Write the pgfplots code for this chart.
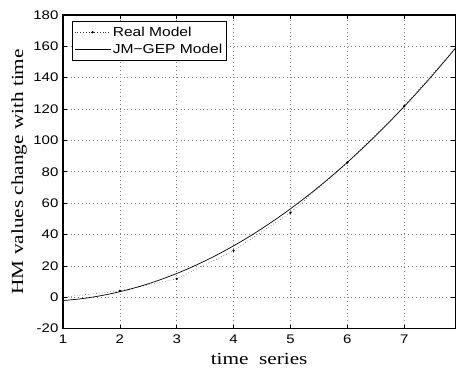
\documentclass[border=0pt]{standalone}
\usepackage{fontspec}
\setmainfont{Liberation Serif}[FakeStretch=1.25]
\newfontfamily\arialfont{Liberation Sans}[FakeStretch=1.2]
\usepackage{pgfplots}
\pgfplotsset{compat=1.18}
\begin{document}
\begin{tikzpicture}
\begin{axis}[
  scale only axis,
  width=393pt, height=314pt,
  xmin=1, xmax=7.9, ymin=-20, ymax=180,
  xtick={1,2,3,4,5,6,7},
  ytick={-20,0,20,40,60,80,100,120,140,160,180},
  /pgf/number format/assume math mode=true,
  ticklabel style={font=\arialfont\fontsize{12.5}{12.5}\selectfont},
  xticklabel style={yshift=-2.5pt},
  yticklabel style={xshift=-1pt},
  tick align=inside, major tick length=4pt,
  tick style={black, line width=0.6pt},
  xtick pos=both, ytick pos=both,
  xticklabel pos=lower, yticklabel pos=left,
  axis line style={line width=1.2pt},
  grid=major,
  major grid style={gray, line width=0.6pt, dash pattern=on 0.8pt off 3pt},
  xlabel={time\ \ series},
  ylabel={HM values change with time},
  label style={font=\fontsize{17}{17}\selectfont},
  xlabel style={at={(axis description cs:0.5,-0.096)}, anchor=center},
  ylabel style={at={(axis description cs:-0.112,0.5)}, anchor=center},
  legend style={at={(axis description cs:0.023,0.981)}, anchor=north west,
    font=\arialfont\fontsize{13}{13}\selectfont, draw=black, line width=0.8pt,
    inner xsep=2pt, inner ysep=3.5pt, row sep=2pt},
  legend cell align=left,
  legend image code/.code={\draw[mark repeat=2,mark phase=2,#1] plot coordinates {(0cm,0cm) (0.63cm,0cm) (1.26cm,0cm)};},
]
\addplot[black!80, line width=0.5pt, dash pattern=on 0.6pt off 2.2pt, mark=*, mark size=0.9pt, mark options={solid, black}]
  coordinates {(1,0) (2,4) (3,11.7) (4,29.7) (5,53.9) (6,85.9) (7,121.9) (8,163)};
\addlegendentry{Real Model}
\addplot[black, line width=0.7pt, smooth]
  coordinates {
(1,-2.13) (1.25,-1.28) (1.5,-0.06) (1.75,1.53) (2,3.5) (2.25,5.84) (2.5,8.56) (2.75,11.66)
(3,15.13) (3.25,18.97) (3.5,23.19) (3.75,27.78) (4,32.75) (4.25,38.09) (4.5,43.81) (4.75,49.91)
(5,56.38) (5.25,63.22) (5.5,70.44) (5.75,78.03) (6,86.0) (6.25,94.34) (6.5,103.06) (6.75,112.16)
(7,121.63) (7.25,131.47) (7.5,141.69) (7.75,152.28) (7.9,158.82)};
\addlegendentry{JM−GEP Model}
\end{axis}
\pgfresetboundingbox
\path ([xshift=-63pt,yshift=-40pt]current axis.south west) rectangle ([xshift=0.6pt,yshift=15pt]current axis.north east);
\end{tikzpicture}
\end{document}
